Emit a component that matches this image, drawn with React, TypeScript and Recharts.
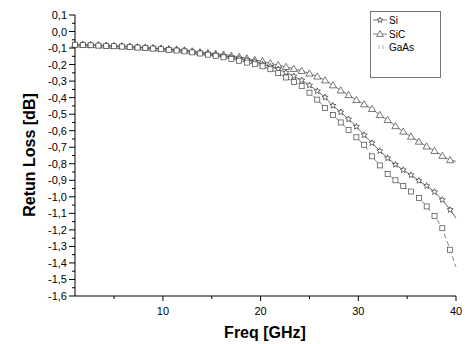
import React from 'react';
import { LineChart, Line, XAxis, YAxis, Label } from 'recharts';

const FONT = '"Liberation Sans", Arial, sans-serif';

// frequency points [GHz]
const FREQ = [
  1, 1.8, 2.6, 3.4, 4.2, 5, 5.8, 6.6, 7.4, 8.2, 9, 9.8,
  10.6, 11.4, 12.2, 13, 13.8, 14.6, 15.4, 16.2, 17, 17.8, 18.6, 19.4,
  20.2, 21, 21.8, 22.6, 23.4, 24.2, 25, 25.8, 26.6, 27.4, 28.2, 29,
  29.8, 30.6, 31.4, 32.2, 33, 33.8, 34.6, 35.4, 36.2, 37, 37.8, 38.6,
  39.4, 40,
];

// return loss [dB]
const SI = [
  -0.079, -0.081, -0.082, -0.084, -0.086, -0.088, -0.09, -0.092, -0.095, -0.098, -0.101, -0.104,
  -0.107, -0.111, -0.115, -0.122, -0.128, -0.134, -0.14, -0.147, -0.155, -0.163, -0.172, -0.182,
  -0.198, -0.212, -0.228, -0.248, -0.27, -0.295, -0.325, -0.36, -0.398, -0.448, -0.488, -0.53,
  -0.575, -0.626, -0.674, -0.722, -0.766, -0.805, -0.838, -0.868, -0.902, -0.934, -0.97, -1.018,
  -1.078, -1.13,
];

const SIC = [
  -0.078, -0.08, -0.081, -0.083, -0.085, -0.087, -0.089, -0.091, -0.094, -0.097, -0.1, -0.103,
  -0.106, -0.109, -0.113, -0.12, -0.125, -0.13, -0.134, -0.139, -0.146, -0.153, -0.162, -0.172,
  -0.18, -0.192, -0.203, -0.214, -0.226, -0.238, -0.254, -0.272, -0.295, -0.325, -0.356, -0.384,
  -0.414, -0.44, -0.468, -0.505, -0.535, -0.572, -0.605, -0.636, -0.666, -0.695, -0.722, -0.752,
  -0.778, -0.785,
];

const GAAS = [
  -0.08, -0.082, -0.083, -0.085, -0.087, -0.089, -0.091, -0.094, -0.097, -0.1, -0.103, -0.107,
  -0.111, -0.115, -0.12, -0.126, -0.133, -0.14, -0.147, -0.156, -0.166, -0.177, -0.188, -0.198,
  -0.21, -0.228, -0.252, -0.278, -0.305, -0.33, -0.37, -0.412, -0.462, -0.505, -0.55, -0.595,
  -0.64, -0.685, -0.755, -0.81, -0.862, -0.9, -0.934, -0.968, -1.008, -1.058, -1.115, -1.19,
  -1.32, -1.425,
];

const Y_MAJOR = [0.1, 0, -0.1, -0.2, -0.3, -0.4, -0.5, -0.6, -0.7, -0.8, -0.9, -1, -1.1, -1.2, -1.3, -1.4, -1.5, -1.6];
const Y_MINOR = [0.05, -0.05, -0.15, -0.25, -0.35, -0.45, -0.55, -0.65, -0.75, -0.85, -0.95, -1.05, -1.15, -1.25, -1.35, -1.45, -1.55];
const X_MAJOR = [10, 20, 30, 40];
const X_MINOR = [5, 15, 25, 35];

const data = FREQ.map((f, i) => ({ f, si: SI[i], sic: SIC[i], gaas: GAAS[i] }));

const PLOT_LEFT = 75;
const PLOT_BOTTOM = 296;
const LAST = FREQ.length - 1;

const fmt = (v: number) => v.toFixed(1).replace('.', ',');

const YTick = ({ y, payload }: any) => {
  const major = Y_MAJOR.some((v) => Math.abs(v - payload.value) < 1e-6);
  return (
    <g>
      <line x1={PLOT_LEFT - (major ? 6 : 3)} x2={PLOT_LEFT} y1={y} y2={y} stroke="#000" />
      {major && (
        <text x={PLOT_LEFT - 8} y={y} textAnchor="end" dominantBaseline="central" fontSize={11} fontFamily={FONT} fill="#000">
          {fmt(payload.value)}
        </text>
      )}
    </g>
  );
};

const XTick = ({ x, payload }: any) => {
  const major = X_MAJOR.includes(payload.value);
  return (
    <g>
      <line x1={x} x2={x} y1={PLOT_BOTTOM} y2={PLOT_BOTTOM + (major ? 5 : 3)} stroke="#000" />
      {major && (
        <text x={x} y={PLOT_BOTTOM + 15} textAnchor="middle" dominantBaseline="central" fontSize={11} fontFamily={FONT} fill="#000">
          {payload.value}
        </text>
      )}
    </g>
  );
};

const starPath = (cx: number, cy: number, r: number) => {
  let d = '';
  for (let k = 0; k < 10; k++) {
    const rr = k % 2 === 0 ? r : r * 0.45;
    const a = -Math.PI / 2 + (k * Math.PI) / 5;
    d += (k === 0 ? 'M' : 'L') + (cx + rr * Math.cos(a)).toFixed(2) + ' ' + (cy + rr * Math.sin(a)).toFixed(2);
  }
  return d + 'Z';
};

const StarDot = (p: any) => {
  if (p.index === LAST) return <g key={`si-${p.index}`} />;
  return <path key={`si-${p.index}`} d={starPath(p.cx, p.cy, 3.2)} fill="#fff" stroke="#333" strokeWidth={0.7} />;
};

const TriDot = (p: any) => {
  if (p.index === LAST) return <g key={`sic-${p.index}`} />;
  const { cx, cy } = p;
  return (
    <path key={`sic-${p.index}`} d={`M${cx} ${cy - 3.6}L${cx + 3.6} ${cy + 2.6}L${cx - 3.6} ${cy + 2.6}Z`} fill="#fff" stroke="#444" strokeWidth={0.7} />
  );
};

const SquareDot = (p: any) => {
  if (p.index === LAST) return <g key={`gaas-${p.index}`} />;
  return <rect key={`gaas-${p.index}`} x={p.cx - 2.5} y={p.cy - 2.5} width={5} height={5} fill="#fff" stroke="#444" strokeWidth={0.7} />;
};

const LegendBox = () => (
  <div
    style={{
      position: 'absolute', left: 370, top: 11, width: 69, height: 65,
      border: '1px solid #777', background: '#fff', fontFamily: FONT, fontSize: 10,
    }}
  >
    <svg width={69} height={65} style={{ position: 'absolute', left: 0, top: 0 }}>
      <line x1={2} x2={16} y1={8} y2={8} stroke="#444" strokeWidth={0.7} />
      <path d={starPath(9, 8, 3)} fill="#fff" stroke="#333" strokeWidth={0.7} />
      <line x1={2} x2={16} y1={22} y2={22} stroke="#555" strokeWidth={0.7} />
      <path d="M9 18.6L12.4 24.4L5.6 24.4Z" fill="#fff" stroke="#444" strokeWidth={0.7} />
      <line x1={8} x2={8} y1={33} y2={37} stroke="#999" strokeWidth={0.7} />
      <line x1={12} x2={12} y1={33} y2={37} stroke="#999" strokeWidth={0.7} />
      <text x={18} y={8} dominantBaseline="central" fontSize={10} fontFamily={FONT}>Si</text>
      <text x={18} y={22} dominantBaseline="central" fontSize={10} fontFamily={FONT}>SiC</text>
      <text x={18} y={35} dominantBaseline="central" fontSize={10} fontFamily={FONT}>GaAs</text>
    </svg>
  </div>
);

export default function App() {
  return (
    <div style={{ position: 'absolute', left: 0, top: 0, width: 465, height: 344, background: '#fff' }}>
      <LineChart width={465} height={344} data={data} margin={{ top: 15, right: 9, bottom: 0, left: 0 }}>
        <XAxis
          type="number"
          dataKey="f"
          domain={[1, 40]}
          ticks={[...X_MINOR, ...X_MAJOR]}
          interval={0}
          height={48}
          axisLine={{ stroke: '#000' }}
          tickLine={false}
          tick={<XTick />}
        >
          <Label
            content={() => (
              <text x={265} y={332} textAnchor="middle" dominantBaseline="central" fontSize={16} fontWeight="bold" fontFamily={FONT}>
                Freq [GHz]
              </text>
            )}
          />
        </XAxis>
        <YAxis
          type="number"
          domain={[-1.6, 0.1]}
          ticks={[...Y_MAJOR, ...Y_MINOR]}
          interval={0}
          width={75}
          axisLine={{ stroke: '#000' }}
          tickLine={false}
          tick={<YTick />}
        >
          <Label
            content={() => (
              <text x={29} y={155} transform="rotate(-90 29 155)" textAnchor="middle" dominantBaseline="central" fontSize={16} fontWeight="bold" fontFamily={FONT}>
                Retun Loss [dB]
              </text>
            )}
          />
        </YAxis>
        <Line dataKey="sic" stroke="#555" strokeWidth={0.8} dot={TriDot} isAnimationActive={false} />
        <Line dataKey="si" stroke="#444" strokeWidth={0.8} dot={StarDot} isAnimationActive={false} />
        <Line dataKey="gaas" stroke="#666" strokeWidth={0.8} strokeDasharray="5 3" dot={SquareDot} isAnimationActive={false} />
      </LineChart>
      <LegendBox />
    </div>
  );
}
